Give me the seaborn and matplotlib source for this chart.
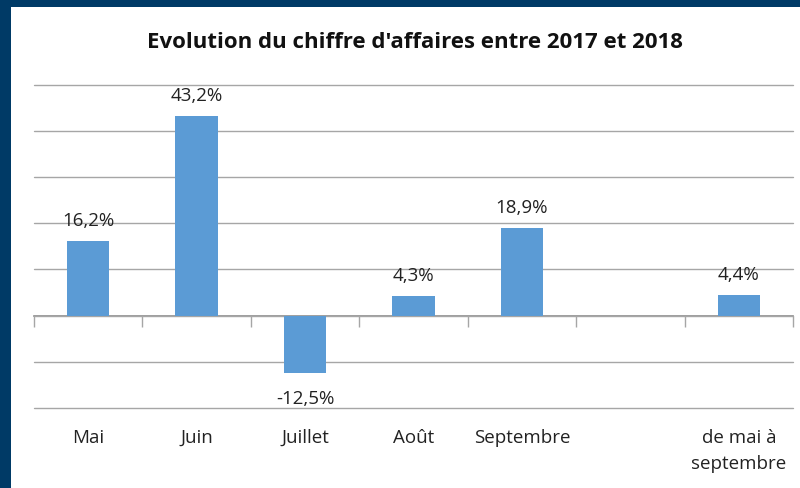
import numpy as np
import pandas as pd
import matplotlib
matplotlib.use("Agg")
import matplotlib.pyplot as plt
import seaborn as sns
from matplotlib.patches import Rectangle

categories = ["Mai", "Juin", "Juillet", "Août", "Septembre", "", "de mai à\nseptembre"]
values = [16.2, 43.2, -12.5, 4.3, 18.9, np.nan, 4.4]
labels = ["16,2%", "43,2%", "-12,5%", "4,3%", "18,9%", "", "4,4%"]
grid_ticks = [-20, -10, 0, 10, 20, 30, 40, 50]

sns.set_style("white")
plt.rcParams['font.family'] = ['Open Sans', 'DejaVu Sans']

df = pd.DataFrame({"mois": categories, "evolution": values})

fig = plt.figure(figsize=(8, 4.88), dpi=100)
fig.patch.set_facecolor("white")
# bordure bleu marine (gauche et haut)
fig.patches.append(Rectangle((0, 0), 11 / 800, 1, transform=fig.transFigure,
                             facecolor="#003A66", edgecolor="none", zorder=0))
fig.patches.append(Rectangle((0, 1 - 7 / 488), 1, 7 / 488, transform=fig.transFigure,
                             facecolor="#003A66", edgecolor="none", zorder=0))

ax = fig.add_axes([34 / 800, 1 - 408 / 488, 759 / 800, (408 - 84.7) / 488])
ax.set_facecolor("none")

sns.barplot(data=df, x="mois", y="evolution", color="#5B9BD5", width=0.39,
            saturation=1, linewidth=0, ax=ax, zorder=3)
ax.set_xlim(-0.5, len(categories) - 0.5)
ax.set_ylim(-20, 50)

for i, (v, lab) in enumerate(zip(values, labels)):
    if np.isnan(v):
        continue
    off = 2.4 if v >= 0 else -3.6
    ax.text(i, v + off, lab, ha="center", va="bottom" if v >= 0 else "top",
            fontsize=13.5, color="#222222")

ax.set_yticks(grid_ticks)
ax.yaxis.grid(True, color="#a6a6a6", linewidth=1)
for gl in ax.get_ygridlines():
    gl.set_clip_on(False)
ax.tick_params(axis="y", left=False, labelleft=False)
ax.tick_params(axis="x", length=0, pad=15, labelsize=13.5, labelcolor="#222222")
for t in ax.get_xticklabels():
    t.set_linespacing(1.55)
ax.set_xlabel("")
ax.set_ylabel("")
for s in ax.spines.values():
    s.set_visible(False)

# axe du zéro avec graduations entre les catégories
sec = ax.secondary_xaxis(2 / 7)
sec.set_xticks(np.arange(-0.5, len(categories), 1.0))
sec.set_xticklabels([])
sec.tick_params(length=8, width=1, color="#a6a6a6", direction="out")
sec.spines["bottom"].set_color("#8c8c8c")
sec.spines["bottom"].set_linewidth(1.2)
for k in ["top", "left", "right"]:
    sec.spines[k].set_visible(False)

fig.text(415 / 800, 1 - 43 / 488, "Evolution du chiffre d'affaires entre 2017 et 2018",
         ha="center", va="center", fontsize=16, fontweight="bold", color="#111111")

fig.savefig("out.png", dpi=100, facecolor=fig.get_facecolor())
